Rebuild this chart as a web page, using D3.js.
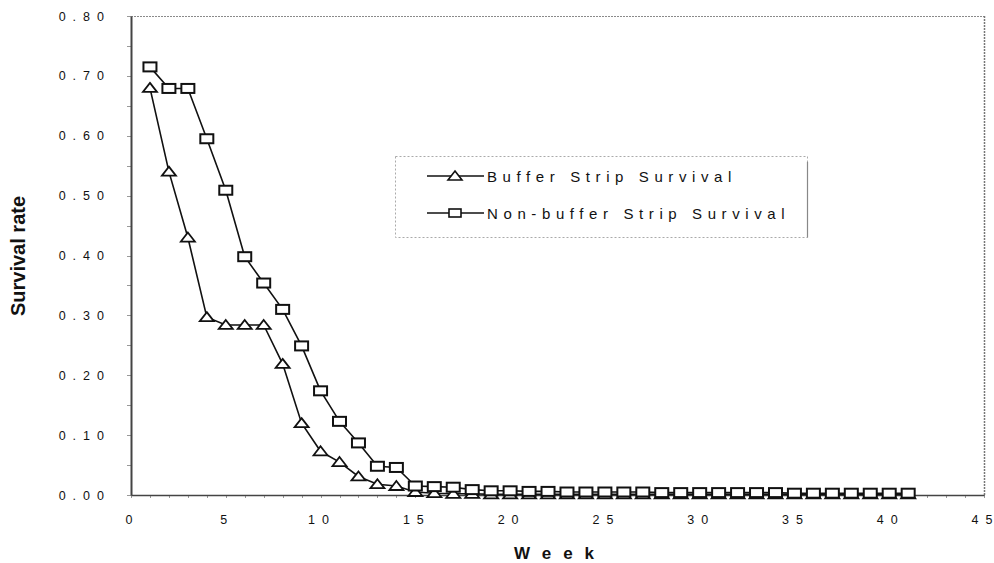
<!DOCTYPE html>
<html>
<head>
<meta charset="utf-8">
<script src="https://cdn.jsdelivr.net/npm/d3@7"></script>
<style>
  html, body { margin: 0; padding: 0; background: #fff; }
  svg { display: block; font-family: "Liberation Sans", Arial, sans-serif; }
</style>
</head>
<body>
<svg id="chart" width="994" height="563"></svg>
<script>
// ---- data ----
const weeks = d3.range(1, 42);
const bufferSurvival = [0.680, 0.540, 0.430, 0.297, 0.284, 0.284, 0.284, 0.219, 0.120, 0.073,
  0.055, 0.031, 0.018, 0.015, 0.005, 0.003, 0.002, 0.002, 0.001, 0.001,
  0.001, 0.001, 0.001, 0.001, 0.001, 0.001, 0.001, 0.001, 0.001, 0.001,
  0.001, 0.001, 0.001, 0.001, 0.001, 0.001, 0.001, 0.001, 0.001, 0.001, 0.001];
const nonBufferSurvival = [0.715, 0.679, 0.679, 0.595, 0.509, 0.398, 0.354, 0.310, 0.249, 0.174,
  0.123, 0.087, 0.048, 0.046, 0.015, 0.014, 0.013, 0.009, 0.007, 0.007,
  0.006, 0.006, 0.005, 0.005, 0.005, 0.005, 0.005, 0.004, 0.004, 0.004,
  0.004, 0.004, 0.004, 0.004, 0.003, 0.003, 0.003, 0.003, 0.003, 0.003, 0.003];
const seriesNames = ["Buffer Strip Survival", "Non-buffer Strip Survival"];
const xTickValues = [0, 5, 10, 15, 20, 25, 30, 35, 40, 45];
const yTickValues = [0, 0.1, 0.2, 0.3, 0.4, 0.5, 0.6, 0.7, 0.8];
const xTitle = "Week";
const yTitle = "Survival rate";

// ---- layout ----
const L = 131, R = 984, T = 16, B = 495;
const svg = d3.select("#chart");
const x = d3.scaleLinear().domain([0, 45]).range([L, R]);
const y = d3.scaleLinear().domain([0, 0.8]).range([B, T]);

// spread characters without trailing spacing
function spread(sel, gap) {
  sel.each(function () {
    const t = d3.select(this);
    const s = t.text();
    t.text(null);
    [...s].forEach((ch, i) => t.append("tspan").attr("dx", i === 0 ? 0 : gap).text(ch));
  });
}

// plot border (top & right dotted grey)
svg.append("line").attr("x1", L).attr("x2", R).attr("y1", T + 0.5).attr("y2", T + 0.5)
  .attr("stroke", "#8a8a8a").attr("stroke-width", 1).attr("stroke-dasharray", "2,1");
svg.append("line").attr("x1", R + 0.5).attr("x2", R + 0.5).attr("y1", T).attr("y2", B)
  .attr("stroke", "#777").attr("stroke-width", 1.5).attr("stroke-dasharray", "2,1");

// minor ticks
svg.append("g").selectAll("line").data(d3.range(0, 0.801, 0.05)).join("line")
  .attr("x1", L - 4).attr("x2", L).attr("y1", d => Math.round(y(d)) + 0.5).attr("y2", d => Math.round(y(d)) + 0.5)
  .attr("stroke", "#999").attr("stroke-width", 1);
svg.append("g").selectAll("line").data(d3.range(0, 46, 1)).join("line")
  .attr("x1", d => Math.round(x(d)) + 0.5).attr("x2", d => Math.round(x(d)) + 0.5)
  .attr("y1", B).attr("y2", B + 3)
  .attr("stroke", "#999").attr("stroke-width", 1);

// axes
const yAxis = d3.axisLeft(y).tickValues(yTickValues).tickFormat(d3.format(".2f")).tickSize(0).tickPadding(27);
const gy = svg.append("g").attr("transform", `translate(${L},0)`).call(yAxis);
gy.select(".domain").attr("stroke", "#444").attr("stroke-width", 2);
gy.selectAll("text").attr("font-size", 12.5).attr("fill", "#111")
  .attr("font-family", "'Liberation Sans', Arial, sans-serif").call(spread, 7);

const xAxis = d3.axisBottom(x).tickValues(xTickValues).tickFormat(d3.format("d")).tickSize(0).tickPadding(20);
const gx = svg.append("g").attr("transform", `translate(0,${B})`).call(xAxis);
gx.select(".domain").attr("stroke", "#444").attr("stroke-width", 1.5);
gx.selectAll("text").attr("font-size", 12.5).attr("fill", "#111").attr("x", -2.5)
  .attr("font-family", "'Liberation Sans', Arial, sans-serif").call(spread, 7);

// axis titles
svg.append("text").attr("x", 554).attr("y", 559)
  .attr("text-anchor", "middle").attr("font-size", 17).attr("font-weight", "bold")
  .attr("fill", "#111").text(xTitle).call(spread, 12);
svg.append("text").attr("transform", "translate(25,256) rotate(-90)")
  .attr("text-anchor", "middle").attr("font-size", 20).attr("font-weight", "bold")
  .attr("fill", "#111").text(yTitle);

// markers
const triPath = "M0,-5 L7,4 L-7,4 Z";
function drawSeries(values, kind) {
  const pts = weeks.map((w, i) => [w, values[i]]);
  const line = d3.line().x(d => x(d[0])).y(d => y(d[1]));
  svg.append("path").datum(pts).attr("d", line)
    .attr("fill", "none").attr("stroke", "#111").attr("stroke-width", 1.6);
  const g = svg.append("g");
  if (kind === "tri") {
    g.selectAll("path").data(pts).join("path")
      .attr("transform", d => `translate(${x(d[0])},${y(d[1])})`)
      .attr("d", triPath).attr("fill", "#fff").attr("stroke", "#111").attr("stroke-width", 1.8);
  } else {
    g.selectAll("rect").data(pts).join("rect")
      .attr("x", d => x(d[0]) - 6.5).attr("y", d => y(d[1]) - 4.5)
      .attr("width", 13).attr("height", 9)
      .attr("fill", "#fff").attr("stroke", "#111").attr("stroke-width", 2);
  }
}
drawSeries(bufferSurvival, "tri");
drawSeries(nonBufferSurvival, "sq");

// legend
const lg = svg.append("g");
lg.append("rect").attr("x", 395.5).attr("y", 156.5).attr("width", 412).attr("height", 81)
  .attr("fill", "#fff").attr("stroke", "#aaa").attr("stroke-width", 1).attr("stroke-dasharray", "2,2");
lg.append("line").attr("x1", 807.5).attr("x2", 807.5).attr("y1", 162).attr("y2", 237.5)
  .attr("stroke", "#888").attr("stroke-width", 1.2);
const rows = [{ name: seriesNames[0], kind: "tri", cy: 176 }, { name: seriesNames[1], kind: "sq", cy: 213 }];
rows.forEach(r => {
  lg.append("line").attr("x1", 427).attr("x2", 484).attr("y1", r.cy).attr("y2", r.cy)
    .attr("stroke", "#111").attr("stroke-width", 1.6);
  if (r.kind === "tri") {
    lg.append("path").attr("transform", `translate(455,${r.cy})`).attr("d", triPath)
      .attr("fill", "#fff").attr("stroke", "#111").attr("stroke-width", 1.6);
  } else {
    lg.append("rect").attr("x", 449).attr("y", r.cy - 4).attr("width", 12).attr("height", 8)
      .attr("fill", "#fff").attr("stroke", "#111").attr("stroke-width", 1.6);
  }
  lg.append("text").attr("x", 487).attr("y", r.cy + 5.5)
    .attr("font-size", 15).attr("fill", "#111").text(r.name).call(spread, 5.6);
});
</script>
</body>
</html>
